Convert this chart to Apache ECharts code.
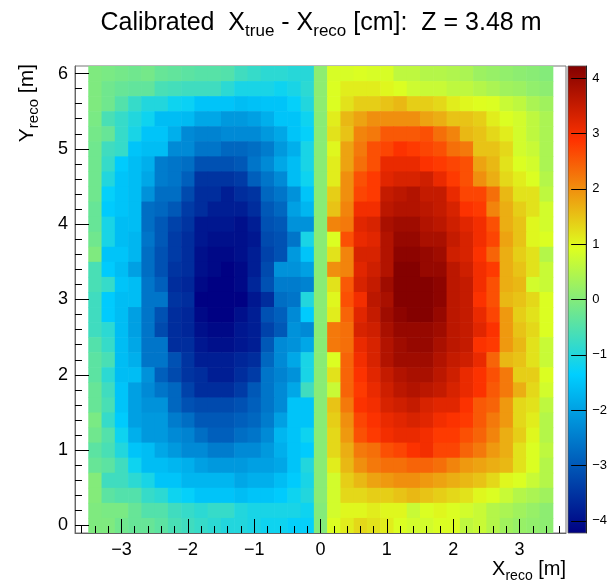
<!DOCTYPE html>
<html>
<head>
<meta charset="utf-8">
<script src="https://cdn.jsdelivr.net/npm/echarts@6/dist/echarts.min.js"></script>
<style>html,body{margin:0;padding:0;background:#fff}</style>
</head>
<body>
<div id="chart" style="width:610px;height:583px"></div>
<script>
// bin centres (m)
var xCenters = [-3.4,-3.2,-3.0,-2.8,-2.6,-2.4,-2.2,-2.0,-1.8,-1.6,-1.4,-1.2,-1.0,-0.8,-0.6,-0.4,-0.2,
                0.0,
                0.2,0.4,0.6,0.8,1.0,1.2,1.4,1.6,1.8,2.0,2.2,2.4,2.6,2.8,3.0,3.2,3.4];
var yCenters = [6.0,5.8,5.6,5.4,5.2,5.0,4.8,4.6,4.4,4.2,4.0,3.8,3.6,3.4,3.2,3.0,
                2.8,2.6,2.4,2.2,2.0,1.8,1.6,1.4,1.2,1.0,0.8,0.6,0.4,0.2,0.0];

// X_true - X_reco [cm], left half (x<0), one row per yCenters entry
var zLeft = [
  [-0.05,-0.1,-0.15,-0.2,-0.15,-0.3,-0.35,-0.4,-0.45,-0.45,-0.5,-0.7,-0.8,-0.9,-0.9,-0.95,-0.95],
  [-0.05,-0.2,-0.3,-0.35,-0.35,-0.6,-0.65,-0.7,-0.7,-0.7,-0.9,-1.1,-1.1,-1.1,-1.2,-1.1,-0.9],
  [-0.05,-0.2,-0.5,-0.8,-1.0,-1.0,-1.2,-1.25,-1.5,-1.5,-1.5,-1.6,-1.55,-1.5,-1.5,-1.3,-1.0],
  [-0.1,-0.6,-0.8,-1.0,-1.2,-1.6,-1.6,-1.65,-1.9,-1.9,-2.1,-2.1,-2.0,-1.8,-1.5,-1.5,-1.2],
  [-0.15,-0.3,-0.8,-1.1,-1.5,-1.5,-1.8,-2.3,-2.4,-2.4,-2.3,-2.3,-2.3,-2.1,-1.9,-1.5,-1.3],
  [-0.2,-0.7,-0.8,-1.5,-1.6,-1.6,-2.3,-2.3,-2.6,-2.6,-2.8,-2.8,-2.7,-2.5,-2.1,-1.8,-1.1],
  [-0.2,-0.8,-1.4,-1.6,-1.8,-2.5,-2.6,-2.7,-3.1,-3.1,-3.1,-3.0,-2.6,-2.3,-1.9,-1.6,-1.1],
  [-0.2,-1.0,-1.5,-1.6,-1.9,-2.5,-2.6,-2.9,-3.5,-3.5,-3.5,-3.4,-2.9,-2.6,-2.3,-1.6,-1.2],
  [-0.2,-1.3,-1.5,-1.6,-2.2,-2.7,-2.7,-3.2,-3.6,-3.6,-3.8,-3.6,-3.5,-2.8,-2.6,-2.2,-1.5],
  [-0.3,-1.4,-1.5,-1.6,-2.7,-2.8,-3.0,-3.4,-3.6,-3.8,-3.8,-3.8,-3.6,-3.0,-2.8,-2.0,-1.7],
  [-0.3,-1.1,-1.6,-1.6,-2.7,-3.0,-3.3,-3.5,-3.9,-3.9,-3.9,-4.0,-3.8,-3.1,-3.0,-2.2,-2.2],
  [-0.2,-1.1,-1.6,-1.7,-2.6,-3.0,-3.4,-3.6,-3.9,-4.0,-4.0,-4.0,-3.9,-3.2,-3.1,-2.6,-1.1],
  [-0.05,-1.5,-1.5,-1.7,-2.7,-3.1,-3.4,-3.6,-4.0,-4.1,-4.1,-4.0,-3.8,-3.3,-3.1,-2.1,-1.5],
  [-0.6,-1.4,-1.6,-2.0,-2.7,-3.1,-3.5,-3.6,-4.0,-4.1,-4.2,-4.1,-3.8,-3.2,-2.2,-2.2,-2.0],
  [-0.6,-0.8,-1.5,-1.6,-2.6,-2.9,-3.6,-3.7,-4.1,-4.2,-4.2,-4.1,-3.7,-3.1,-2.5,-2.5,-2.4],
  [-0.7,-1.4,-1.6,-1.6,-2.6,-2.6,-3.5,-3.6,-4.2,-4.2,-4.2,-4.2,-3.9,-3.6,-2.7,-2.6,-1.0],
  [-0.7,-1.4,-1.6,-2.0,-2.6,-3.1,-3.6,-3.7,-4.1,-4.2,-4.2,-4.0,-3.8,-3.1,-2.9,-2.3,-1.4],
  [-0.7,-0.9,-1.6,-2.0,-2.6,-3.2,-3.6,-3.7,-4.0,-4.1,-4.1,-3.9,-3.8,-3.3,-3.0,-2.2,-2.3],
  [-0.5,-0.8,-1.6,-1.9,-2.6,-2.6,-3.6,-3.6,-3.9,-4.0,-4.0,-3.9,-3.8,-3.0,-2.3,-2.2,-1.9],
  [-0.4,-0.6,-1.6,-1.8,-2.6,-2.6,-3.1,-3.5,-3.8,-3.8,-3.8,-3.7,-3.6,-2.8,-2.3,-1.9,-1.1],
  [-0.4,-0.9,-1.6,-1.6,-2.2,-2.9,-3.2,-3.5,-3.6,-3.8,-3.8,-3.6,-3.4,-2.6,-2.4,-2.2,-1.1],
  [-0.3,-0.7,-1.5,-2.0,-2.3,-2.6,-2.8,-3.3,-3.6,-3.6,-3.6,-3.4,-3.0,-2.6,-2.3,-1.9,-0.7],
  [-0.3,-0.6,-1.5,-2.0,-2.2,-2.2,-2.8,-3.1,-3.2,-3.2,-3.2,-3.1,-2.9,-2.6,-2.3,-1.5,-1.5],
  [-0.1,-0.8,-1.4,-2.0,-2.1,-2.1,-2.5,-2.7,-3.0,-3.0,-3.0,-2.9,-2.8,-2.5,-2.0,-1.5,-1.5],
  [-0.2,-0.5,-1.2,-1.8,-2.1,-2.1,-2.3,-2.4,-2.7,-2.9,-2.9,-2.7,-2.6,-2.3,-1.7,-1.5,-1.2],
  [-0.4,-0.6,-1.0,-1.5,-1.6,-1.9,-2.1,-2.3,-2.3,-2.5,-2.5,-2.3,-2.3,-2.1,-1.8,-1.5,-1.4],
  [-0.3,-0.4,-0.7,-1.2,-1.6,-1.6,-1.7,-1.8,-2.0,-2.1,-2.1,-2.1,-2.0,-2.0,-1.9,-1.5,-1.0],
  [0.0,-0.7,-0.7,-0.9,-1.1,-1.5,-1.5,-1.7,-1.7,-1.7,-1.7,-1.9,-1.8,-1.8,-1.6,-1.4,-1.1],
  [0.0,-0.4,-0.5,-0.5,-0.8,-0.9,-1.2,-1.3,-1.5,-1.5,-1.5,-1.6,-1.5,-1.5,-1.4,-1.2,-1.0],
  [-0.05,-0.1,-0.1,-0.3,-0.5,-0.5,-0.7,-0.8,-0.9,-0.8,-0.8,-1.0,-1.1,-1.1,-1.1,-1.1,-1.2],
  [-0.05,-0.05,-0.2,-0.3,-0.3,-0.4,-0.6,-0.7,-0.8,-0.9,-1.0,-1.0,-1.1,-1.2,-1.2,-1.3,-1.3]
];
// centre column (x = 0)
var zMid = [0.1,0.1,0.1,0.05,0.05,0.05,0.05,0.05,0.05,0.05,0.05,0.05,0.05,0.05,0.05,0.05,
            0.05,0.05,0.05,0.05,0.05,0.05,0.05,0.05,0.05,0.05,0.05,0.05,0.05,0.0,0.0];
// right half (x>0)
var zRight = [
  [0.85,0.85,0.9,0.85,0.85,0.6,0.6,0.5,0.5,0.45,0.4,0.25,0.2,0.15,0.1,0.05,0.0],
  [0.9,1.1,1.1,1.1,1.0,0.9,0.75,0.7,0.7,0.6,0.6,0.5,0.4,0.3,0.25,0.15,0.1],
  [0.9,1.2,1.4,1.4,1.5,1.6,1.4,1.4,1.3,1.1,1.0,0.95,0.9,0.7,0.6,0.4,0.3],
  [1.1,1.6,1.8,2.0,2.0,2.0,2.0,1.8,1.7,1.5,1.5,1.4,1.1,0.9,0.8,0.6,0.4],
  [1.2,1.5,2.1,2.2,2.5,2.5,2.5,2.6,2.3,2.1,1.6,1.5,1.3,1.1,0.8,0.6,0.4],
  [1.0,1.8,2.2,2.6,2.7,2.9,2.8,2.7,2.6,2.3,2.2,1.5,1.5,1.3,0.8,0.7,0.4],
  [1.1,1.8,2.3,2.6,3.1,3.1,3.1,2.9,2.8,2.7,2.6,1.8,1.6,1.2,0.9,0.8,0.4],
  [1.1,2.0,2.6,2.8,3.2,3.3,3.3,3.4,3.1,2.8,2.6,2.0,1.7,1.3,1.1,0.9,0.5],
  [1.4,2.0,2.7,2.8,3.5,3.6,3.7,3.5,3.5,3.1,2.7,2.7,2.3,1.6,1.2,1.2,0.6],
  [1.5,2.1,3.0,3.0,3.6,3.7,3.7,3.6,3.5,3.3,2.9,2.8,2.1,1.7,1.4,1.2,0.8],
  [2.1,2.2,3.2,3.3,3.8,3.9,3.9,3.7,3.6,3.4,3.2,3.0,2.6,1.7,1.5,1.0,0.8],
  [0.9,2.6,3.1,3.2,3.7,4.0,4.0,3.8,3.8,3.5,3.3,3.0,2.7,1.8,1.5,1.0,0.9],
  [1.2,2.1,3.3,3.3,3.7,4.1,4.1,4.0,3.9,3.4,3.3,2.9,2.4,1.7,1.4,1.2,0.5],
  [2.0,2.1,3.2,3.4,3.7,4.2,4.2,4.0,4.0,3.6,3.4,3.0,2.8,1.7,1.5,1.2,0.7],
  [1.2,2.5,3.3,3.5,3.9,4.2,4.2,4.2,4.1,3.6,3.5,3.0,2.6,1.7,1.6,0.8,0.7],
  [1.0,2.6,3.0,3.6,3.8,4.2,4.2,4.2,4.1,3.6,3.5,2.9,2.6,1.6,1.5,1.3,0.9],
  [1.1,2.4,3.2,3.5,3.9,4.1,4.2,4.2,4.0,3.6,3.5,3.1,2.7,1.9,1.4,1.2,0.9],
  [2.2,2.3,3.3,3.4,3.8,4.0,4.0,4.0,3.9,3.6,3.5,3.2,2.9,1.9,1.5,1.3,0.9],
  [2.2,2.3,3.1,3.3,3.7,3.9,4.0,4.0,3.8,3.6,3.5,2.9,2.8,1.9,1.6,1.2,0.7],
  [0.9,2.4,3.0,3.3,3.7,3.9,3.9,3.9,3.7,3.5,3.4,3.1,2.4,1.6,1.5,1.2,0.7],
  [1.2,2.4,2.9,3.2,3.5,3.7,3.8,3.8,3.6,3.4,3.1,2.9,2.6,2.2,1.4,1.4,0.9],
  [0.7,2.4,2.8,3.1,3.4,3.6,3.7,3.6,3.5,3.3,3.1,2.9,2.5,2.2,1.7,1.3,0.8],
  [1.5,2.2,2.9,3.0,3.3,3.4,3.5,3.3,3.2,3.2,2.9,2.5,2.4,1.9,1.3,1.2,0.6],
  [1.4,2.0,2.7,2.9,3.1,3.2,3.3,3.2,3.0,2.9,2.8,2.5,2.2,1.9,1.3,1.1,0.5],
  [1.3,1.9,2.6,2.8,3.0,3.1,3.1,3.0,2.8,2.8,2.6,2.4,2.1,1.7,1.4,1.0,0.5],
  [1.3,1.7,2.2,2.3,2.6,2.7,2.9,3.0,2.7,2.7,2.4,2.2,1.9,1.7,1.2,0.9,0.6],
  [1.1,1.6,2.0,2.2,2.3,2.3,2.4,2.4,2.3,2.1,1.9,1.8,1.7,1.6,1.2,0.9,0.5],
  [0.8,1.4,1.6,1.8,1.9,2.0,2.0,1.9,1.8,1.7,1.6,1.5,1.3,1.0,0.9,0.7,0.5],
  [0.8,1.3,1.3,1.4,1.4,1.5,1.6,1.5,1.4,1.3,1.2,1.0,0.9,0.7,0.5,0.4,0.3],
  [0.8,1.0,1.0,1.1,1.0,1.0,0.7,0.9,1.0,0.9,0.8,0.7,0.5,0.4,0.3,0.2,0.1],
  [0.9,1.1,1.3,1.2,1.1,0.9,0.8,0.8,0.9,0.9,0.6,0.7,0.5,0.3,0.2,0.15,0.1]
];

var xMajor = [-3,-2,-1,0,1,2,3];
var xMinor = [-3.6,-3.4,-3.2,-2.8,-2.6,-2.4,-2.2,-1.8,-1.6,-1.4,-1.2,-0.8,-0.6,-0.4,-0.2,
              0.2,0.4,0.6,0.8,1.2,1.4,1.6,1.8,2.2,2.4,2.6,2.8,3.2,3.4,3.6];
var yMajor = [0,1,2,3,4,5,6];
var yMinor = [0.2,0.4,0.6,0.8,1.2,1.4,1.6,1.8,2.2,2.4,2.6,2.8,3.2,3.4,3.6,3.8,
              4.2,4.4,4.6,4.8,5.2,5.4,5.6,5.8];
var zTicks = [-4,-3,-2,-1,0,1,2,3,4];
var zMin = -4.22, zMax = 4.22;

// palette (ROOT style 5-stop rainbow)
var palStops = [0.00, 0.34, 0.61, 0.84, 1.00];
var palRGB = [[0,0,130],[0,207,255],[222,255,31],[255,51,0],[130,0,0]];
function palColor(f) {
  for (var i = 1; i < palStops.length; i++) {
    if (f <= palStops[i] || i == palStops.length - 1) {
      var t = (f - palStops[i-1]) / (palStops[i] - palStops[i-1]);
      t = Math.max(0, Math.min(1, t));
      var a = palRGB[i-1], b = palRGB[i];
      return 'rgb(' + Math.round(a[0]+(b[0]-a[0])*t) + ',' + Math.round(a[1]+(b[1]-a[1])*t) + ',' + Math.round(a[2]+(b[2]-a[2])*t) + ')';
    }
  }
}
var palSamples = [];
for (var k = 0; k <= 100; k++) palSamples.push(palColor(k / 100));

var cells = [];
for (var r = 0; r < yCenters.length; r++) {
  for (var c = 0; c < xCenters.length; c++) {
    var z = c < 17 ? zLeft[r][c] : (c == 17 ? zMid[r] : zRight[r][c-18]);
    cells.push([xCenters[c], yCenters[r], z]);
  }
}

var FONT = '"Liberation Sans", Arial, Helvetica, sans-serif';
function minus(v) { return String(v).replace('-', '\u2212'); }

var chart = echarts.init(document.getElementById('chart'));
var half = 0.1;

chart.setOption({
  animation: false,
  backgroundColor: '#fff',
  grid: [
    {left: 75, top: 66, width: 491, height: 467, show: true, borderColor: '#777', borderWidth: 1, backgroundColor: 'transparent'},
    {left: 568, top: 66, width: 29, height: 467}
  ],
  visualMap: {
    show: false, type: 'continuous', min: zMin, max: zMax,
    dimension: 2, seriesIndex: 0, inRange: {color: palSamples}
  },
  xAxis: [
    {gridIndex: 0, type: 'value', min: -3.7, max: 3.7, position: 'bottom', z: 10,
     axisLine: {show: true, onZero: false, lineStyle: {color: '#666'}},
     axisTick: {show: true, inside: true, length: 14, customValues: xMajor, lineStyle: {color: '#000'}},
     axisLabel: {customValues: xMajor, margin: 8, fontSize: 18, color: '#000', fontFamily: FONT, formatter: minus},
     splitLine: {show: false}},
    {gridIndex: 0, type: 'value', min: -3.7, max: 3.7, position: 'bottom', z: 10,
     axisLine: {show: false, onZero: false},
     axisTick: {show: true, inside: true, length: 7, customValues: xMinor, lineStyle: {color: '#000'}},
     axisLabel: {show: false}, splitLine: {show: false}},
    {gridIndex: 1, type: 'value', min: 0, max: 1, show: false, axisLine: {onZero: false}}
  ],
  yAxis: [
    {gridIndex: 0, type: 'value', min: -0.1, max: 6.1, position: 'left', z: 10,
     axisLine: {show: true, onZero: false, lineStyle: {color: '#666'}},
     axisTick: {show: true, inside: true, length: 14, customValues: yMajor, lineStyle: {color: '#000'}},
     axisLabel: {customValues: yMajor, margin: 7, fontSize: 18, color: '#000', fontFamily: FONT},
     splitLine: {show: false}},
    {gridIndex: 0, type: 'value', min: -0.1, max: 6.1, position: 'left', z: 10,
     axisLine: {show: false, onZero: false},
     axisTick: {show: true, inside: true, length: 7, customValues: yMinor, lineStyle: {color: '#000'}},
     axisLabel: {show: false}, splitLine: {show: false}},
    {gridIndex: 1, type: 'value', min: zMin, max: zMax, position: 'right', z: 10,
     axisLine: {show: true, onZero: false, lineStyle: {color: '#222'}},
     axisTick: {show: true, inside: true, length: 15, customValues: zTicks, lineStyle: {color: '#000'}},
     axisLabel: {customValues: zTicks, margin: 6, fontSize: 13, color: '#000', fontFamily: FONT, formatter: minus},
     splitLine: {show: false}}
  ],
  series: [
    {
      type: 'custom', xAxisIndex: 0, yAxisIndex: 0, z: 1,
      encode: {x: 0, y: 1},
      data: cells,
      renderItem: function (params, api) {
        var x = api.value(0), y = api.value(1);
        var p0 = api.coord([x - half, y + half]);
        var p1 = api.coord([x + half, y - half]);
        return {
          type: 'rect',
          shape: {x: p0[0], y: p0[1], width: p1[0] - p0[0] + 0.6, height: p1[1] - p0[1] + 0.6},
          style: {fill: api.visual('color')}
        };
      }
    },
    {
      type: 'custom', xAxisIndex: 2, yAxisIndex: 2, z: 1,
      data: [[0.5, 0]],
      renderItem: function (params, api) {
        var p0 = api.coord([0, zMax]);
        var p1 = api.coord([1, zMin]);
        var stops = palStops.map(function (s) { return {offset: s, color: palColor(s)}; });
        return {
          type: 'rect',
          shape: {x: p0[0], y: p0[1], width: p1[0] - p0[0], height: p1[1] - p0[1]},
          style: {fill: new echarts.graphic.LinearGradient(0, 1, 0, 0, stops), stroke: '#555', lineWidth: 0.8}
        };
      }
    }
  ],
  graphic: [
    {type: 'text', x: 321, y: 23, style: {
      text: '{n|Calibrated  X}{s|true}{n| - X}{s|reco}{n| [cm]:  Z = 3.48 m}',
      align: 'center', verticalAlign: 'middle', fill: '#000',
      rich: {
        n: {fontSize: 25, fontFamily: FONT, fill: '#000'},
        s: {fontSize: 17, fontFamily: FONT, fill: '#000', padding: [16, 0, 0, 0]}
      }
    }},
    {type: 'text', x: 566, y: 569, style: {
      text: '{n|X}{s|reco}{n| [m]}',
      align: 'right', verticalAlign: 'middle', fill: '#000',
      rich: {
        n: {fontSize: 20, fontFamily: FONT, fill: '#000'},
        s: {fontSize: 14, fontFamily: FONT, fill: '#000', padding: [14, 0, 0, 0]}
      }
    }},
    {type: 'text', x: 27, y: 64, rotation: Math.PI / 2, style: {
      text: '{n|Y}{s|reco}{n| [m]}',
      align: 'right', verticalAlign: 'middle', fill: '#000',
      rich: {
        n: {fontSize: 21, fontFamily: FONT, fill: '#000'},
        s: {fontSize: 15, fontFamily: FONT, fill: '#000', padding: [14, 0, 0, 0]}
      }
    }}
  ]
});
</script>
</body>
</html>
